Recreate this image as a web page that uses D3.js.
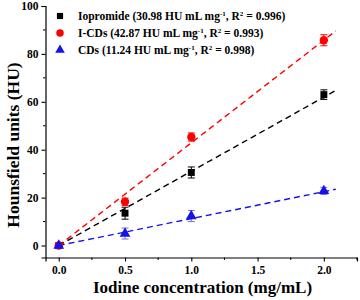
<!DOCTYPE html>
<html><head><meta charset="utf-8">
<script src="https://cdn.jsdelivr.net/npm/d3@7"></script>
<style>body{margin:0;background:#fff}svg{display:block}</style>
</head><body>
<svg id="c" width="360" height="300"></svg>
<script>
const concentrations = [0, 0.5, 1.0, 2.0];
const iopromideHU = [0, 13.5, 30.5, 63.0];
const iopromideErr = [0.5, 2.5, 2.3, 2.0];
const icdsHU = [0, 18.3, 45.3, 85.7];
const icdsErr = [0.5, 1.5, 1.7, 2.3];
const cdsHU = [0, 5.0, 12.3, 22.8];
const cdsErr = [0.5, 2.3, 2.3, 1.5];
const slopes = [30.98, 42.87, 11.24];
const seriesNames = ["Iopromide", "I-CDs", "CDs"];
const r2 = ["0.996", "0.993", "0.998"];
const xTicks = [0, 0.5, 1.0, 1.5, 2.0];
const yTicks = [0, 20, 40, 60, 80, 100];

const svg = d3.select("#c");
const font = "'Liberation Serif','Times New Roman',serif";
const x = d3.scaleLinear().domain([-0.1, 2.25]).range([45.5, 357]);
const y = d3.scaleLinear().domain([-5, 100]).range([257.5, 6]);

const series = [
  {name: seriesNames[0], vals: iopromideHU, err: iopromideErr, color: "#000", errColor: "#000", shape: d3.symbolSquare, size: 48},
  {name: seriesNames[1], vals: icdsHU, err: icdsErr, color: "#f00", errColor: "#f00", shape: d3.symbolCircle, size: 55},
  {name: seriesNames[2], vals: cdsHU, err: cdsErr, color: "#1414e6", errColor: "#7a6ee0", shape: d3.symbolTriangle, size: 50}
];

// axes
const xAxis = d3.axisBottom(x).tickValues(xTicks).tickFormat(d3.format(".1f")).tickSize(4);
const yAxis = d3.axisLeft(y).tickValues(yTicks).tickFormat(d3.format("d")).tickSize(4);
const gx = svg.append("g").attr("transform", `translate(0,${y(-5)})`).call(xAxis);
const gy = svg.append("g").attr("transform", `translate(${x(-0.1)},0)`).call(yAxis);
// minor ticks
gx.selectAll(".minor").data([0.25, 0.75, 1.25, 1.75, 2.25]).enter().append("line")
  .attr("x1", d => x(d)).attr("x2", d => x(d)).attr("y1", 0).attr("y2", 2.5).attr("stroke", "#000");
gy.selectAll(".minor").data([10, 30, 50, 70, 90]).enter().append("line")
  .attr("y1", d => y(d)).attr("y2", d => y(d)).attr("x1", 0).attr("x2", -2.5).attr("stroke", "#000");
[gx, gy].forEach(g => {
  g.select(".domain").attr("stroke", "#000").attr("stroke-width", 1.2);
  g.selectAll(".tick line").attr("stroke", "#000").attr("stroke-width", 1.1);
  g.selectAll("text").attr("font-family", font).attr("font-weight", "bold").attr("font-size", 11.5).attr("fill", "#000");
});
gx.selectAll(".tick text").attr("dy", "0.8em");

// fit lines
series.forEach((s, i) => {
  svg.append("line")
    .attr("x1", x(0)).attr("y1", y(0))
    .attr("x2", x(2.09)).attr("y2", y(slopes[i] * 2.09))
    .attr("stroke", s.color).attr("stroke-width", 1.4).attr("stroke-dasharray", "6,4");
});

// error bars and points
series.forEach(s => {
  const g = svg.append("g");
  concentrations.forEach((c, j) => {
    const cx = x(c), v = s.vals[j], e = s.err[j];
    if (j > 0) {
      g.append("line").attr("x1", cx).attr("x2", cx).attr("y1", y(v - e)).attr("y2", y(v + e)).attr("stroke", s.errColor).attr("stroke-width", 1);
      [v - e, v + e].forEach(t => g.append("line").attr("x1", cx - 3.5).attr("x2", cx + 3.5).attr("y1", y(t)).attr("y2", y(t)).attr("stroke", s.errColor).attr("stroke-width", 1));
    }
    g.append("path").attr("d", d3.symbol().type(s.shape).size(s.size)())
      .attr("transform", `translate(${cx},${y(v)})`).attr("fill", s.color);
  });
});

// legend
series.forEach((s, i) => {
  const ly = 16 + i * 17;
  svg.append("path").attr("d", d3.symbol().type(s.shape).size(s.size * 0.8)())
    .attr("transform", `translate(60,${ly})`).attr("fill", s.color);
  const t = svg.append("text").attr("x", 78).attr("y", ly + 4)
    .attr("font-family", font).attr("font-weight", "bold").attr("font-size", 11.5).attr("fill", "#000");
  t.append("tspan").text(`${s.name} (${slopes[i].toFixed(2)} HU mL mg`);
  t.append("tspan").attr("font-size", 7).attr("dy", -4).text("-1");
  t.append("tspan").attr("dy", 4).text(", R");
  t.append("tspan").attr("font-size", 7).attr("dy", -4).text("2");
  t.append("tspan").attr("dy", 4).text(` = ${r2[i]})`);
});

// axis titles
svg.append("text").attr("x", 202.5).attr("y", 293).attr("text-anchor", "middle")
  .attr("font-family", font).attr("font-weight", "bold").attr("font-size", 17).text("Iodine concentration (mg/mL)");
svg.append("text").attr("transform", "translate(19,145) rotate(-90)").attr("text-anchor", "middle")
  .attr("font-family", font).attr("font-weight", "bold").attr("font-size", 17.5).text("Hounsfield units (HU)");
</script>
</body></html>
